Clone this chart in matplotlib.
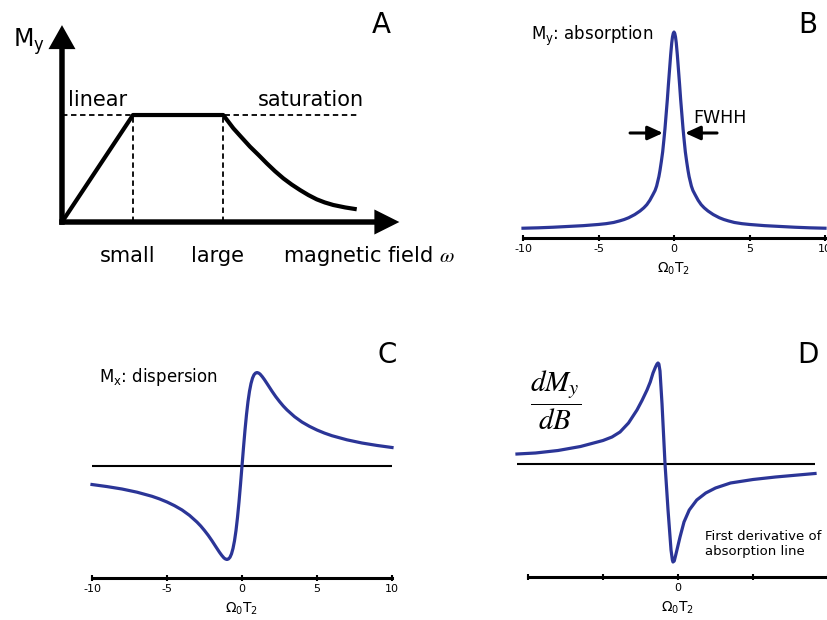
import matplotlib
matplotlib.use('Agg')
import matplotlib.pyplot as plt

plt.rcParams['font.family'] = 'DejaVu Sans'
plt.rcParams['axes.unicode_minus'] = False

# panel A: schematic of M_y vs field (units: small field = 1, saturation = 1)
a_field = [0, 1.0, 2.27, 2.34, 2.413, 2.53, 2.648, 2.77, 2.883, 3.0, 3.117, 3.235, 3.352, 3.47,
           3.587, 3.7, 3.821, 3.99, 4.151]
a_my = [0, 1.0, 1.0, 0.94, 0.876, 0.79, 0.704, 0.625, 0.549, 0.475, 0.408, 0.35, 0.299, 0.252,
        0.212, 0.183, 0.159, 0.136, 0.119]
a_marks = [1.0, 2.27]
a_mark_labels = ['small', 'large']
a_sat = 1.0

# panel B: absorption line
b_x = [-10, -9, -8, -7, -6, -5, -4.5, -4, -3.6, -3.3, -3, -2.6, -2.25, -2.0, -1.8, -1.6, -1.4,
       -1.25, -1.15, -1.0, -0.93, -0.84, -0.75, -0.67, -0.6, -0.52, -0.44, -0.37, -0.3, -0.22,
       -0.15, -0.1, -0.05, 0,
       0.05, 0.1, 0.15, 0.22, 0.3, 0.37, 0.44, 0.52, 0.6, 0.67, 0.75, 0.84, 0.93, 1.0, 1.15,
       1.25, 1.4, 1.6, 1.8, 2.0, 2.25, 2.6, 3, 3.3, 3.6, 4, 4.5, 5, 6, 7, 8, 9, 10]
b_y = [0.009, 0.011, 0.014, 0.018, 0.022, 0.028, 0.032, 0.038, 0.046, 0.053, 0.062, 0.078,
       0.096, 0.112, 0.128, 0.15, 0.178, 0.2, 0.222, 0.27, 0.30, 0.345, 0.395, 0.455, 0.51,
       0.585, 0.66, 0.735, 0.805, 0.885, 0.945, 0.975, 0.993, 1.0,
       0.993, 0.975, 0.945, 0.885, 0.805, 0.735, 0.66, 0.585, 0.51, 0.455, 0.395, 0.345, 0.30,
       0.27, 0.222, 0.2, 0.178, 0.15, 0.128, 0.112, 0.096, 0.078, 0.062, 0.053, 0.046, 0.038,
       0.032, 0.028, 0.022, 0.018, 0.014, 0.011, 0.009]
b_fwhh = 0.73
b_ticks = [-10, -5, 0, 5, 10]
b_ticklabels = ['-10', '-5', '0', '5', '10']

# panel C: dispersion
c_x = [-10, -9, -8, -7, -6, -5.5, -5, -4.5, -4, -3.5, -3, -2.75, -2.5, -2.25, -2, -1.75, -1.5,
       -1.35, -1.2, -1.1, -1, -0.9, -0.8, -0.7, -0.6, -0.5, -0.4, -0.3, -0.2, -0.1, 0,
       0.1, 0.2, 0.3, 0.4, 0.5, 0.6, 0.7, 0.8, 0.9, 1, 1.1, 1.2, 1.35, 1.5, 1.75, 2, 2.25, 2.5,
       2.75, 3, 3.5, 4, 4.5, 5, 5.5, 6, 7, 8, 9, 10]
c_y = [-0.198, -0.220, -0.246, -0.28, -0.324, -0.352, -0.385, -0.424, -0.47, -0.528, -0.60,
       -0.642, -0.69, -0.742, -0.80, -0.862, -0.923, -0.956, -0.984, -0.995, -1.0, -0.994,
       -0.976, -0.94, -0.882, -0.80, -0.69, -0.55, -0.385, -0.198, 0,
       0.198, 0.385, 0.55, 0.69, 0.80, 0.882, 0.94, 0.976, 0.994, 1.0, 0.995, 0.984, 0.956,
       0.923, 0.862, 0.80, 0.742, 0.69, 0.642, 0.60, 0.528, 0.47, 0.424, 0.385, 0.352, 0.324,
       0.28, 0.246, 0.220, 0.198]
c_ticks = [-10, -5, 0, 5, 10]
c_ticklabels = ['-10', '-5', '0', '5', '10']

# panel D: first derivative of the absorption line
d_x = [-2.147, -1.9, -1.6, -1.3, -1.0, -0.88, -0.773, -0.66, -0.547, -0.48, -0.413, -0.37,
       -0.333, -0.3, -0.28, -0.267, -0.255, -0.24, -0.213, -0.173, -0.133, -0.093, -0.075,
       -0.067, -0.05, -0.027, 0.027, 0.08, 0.15, 0.25, 0.37, 0.5, 0.7, 1.0, 1.3, 1.6, 1.827]
d_y = [0.10, 0.11, 0.135, 0.175, 0.235, 0.27, 0.32, 0.41, 0.54, 0.635, 0.74, 0.82, 0.91, 0.97,
       1.0, 1.01, 1.0, 0.93, 0.60, 0.0, -0.46, -0.86, -0.96, -0.98, -0.97, -0.90, -0.73, -0.58,
       -0.46, -0.36, -0.29, -0.24, -0.19, -0.155, -0.13, -0.11, -0.095]
d_ticks = [-2, -1, 0, 1, 2]
d_ticklabels = ['', '', '0', '', '']

BLUE = '#2b3597'
W, H = 827, 620
fig = plt.figure(figsize=(W / 100, H / 100), dpi=100)


def box(x0, x1, ytop, ybot):
    # axes placed by pixel edges (from top-left)
    return fig.add_axes([x0 / W, 1 - ybot / H, (x1 - x0) / W, (ybot - ytop) / H])


def label(px, py, s, **kw):
    fig.text(px / W, 1 - py / H, s, **kw)


def bottom_axis(ax, ticks, labels):
    for s in ['left', 'right', 'top']:
        ax.spines[s].set_visible(False)
    ax.spines['bottom'].set_linewidth(2.2)
    ax.patch.set_visible(False)
    ax.set_yticks([])
    ax.set_xticks(ticks)
    ax.set_xticklabels(labels)
    ax.tick_params(axis='x', direction='inout', length=4, width=1.5, labelsize=8, pad=2)
    ax.set_xlabel(r'$\mathregular{\Omega_0T_2}$', fontsize=10, labelpad=5)


# ---- A ----
axA = box(0, 420, 0, 280)
axA.set_xlim(-0.873, 5.042)
axA.set_ylim(-0.542, 2.075)
axA.axis('off')
axA.arrow(0, -0.026, 0, 1.866, width=0.077, head_width=0.38, head_length=0.224,
          length_includes_head=True, color='k', lw=0)
axA.arrow(-0.0385, 0, 4.79, 0, width=0.051, head_width=0.234, head_length=0.352,
          length_includes_head=True, color='k', lw=0)
axA.hlines(a_sat, 0, a_field[-1], colors='k', lw=1.3, linestyles=(0, (3, 2)))
axA.vlines(a_marks, 0, a_sat, colors='k', lw=1.3, linestyles=(0, (3, 2)))
axA.plot(a_field, a_my, color='k', lw=3, solid_capstyle='butt', solid_joinstyle='round')
axA.text(0.085, 1.084, 'linear', fontsize=15, va='baseline')
axA.text(2.76, 1.084, 'saturation', fontsize=15, va='baseline')
for xm, t in zip(a_marks, a_mark_labels):
    axA.text(xm - 0.08, -0.374, t, fontsize=15, ha='center', va='baseline')
axA.text(3.11, -0.374, 'magnetic field ' + r'$\omega$', fontsize=15, va='baseline',
         math_fontfamily='stix')
axA.text(-0.69, 1.636, r'M$_\mathregular{y}$', fontsize=17, va='baseline')
axA.text(4.49, 1.766, 'A', fontsize=20, ha='center', va='baseline')

# ---- B ----
axB = box(523, 825, 15, 238)
axB.set_xlim(-10, 10)
axB.set_ylim(-0.0404, 1.086)
axB.plot(b_x, b_y, color=BLUE, lw=2.3, clip_on=False)
bottom_axis(axB, b_ticks, b_ticklabels)
arrow_kw = dict(arrowstyle='-|>,head_length=0.7,head_width=0.32', color='k', lw=2.2,
                shrinkA=0, shrinkB=0, mutation_scale=13)
axB.annotate('', xy=(-b_fwhh, 0.49), xytext=(-2.91, 0.49), arrowprops=arrow_kw)
axB.annotate('', xy=(b_fwhh, 0.49), xytext=(2.85, 0.49), arrowprops=arrow_kw)
label(531, 40, r'M$_\mathregular{y}$: absorption', fontsize=12, va='baseline')
label(693, 123, 'FWHH', fontsize=12.5, va='baseline')
label(808, 33, 'B', fontsize=20, ha='center', va='baseline')

# ---- C ----
axC = box(92, 392, 340, 578)
axC.set_xlim(-10, 10)
axC.set_ylim(-1.198, 1.348)
axC.hlines(0, min(c_x), max(c_x), colors='k', lw=1.5, clip_on=False)
axC.plot(c_x, c_y, color=BLUE, lw=2.3, clip_on=False)
bottom_axis(axC, c_ticks, c_ticklabels)
label(99, 382, r'M$_\mathregular{x}$: dispersion', fontsize=12, va='baseline')
label(387, 363, 'C', fontsize=20, ha='center', va='baseline')

# ---- D ----
axD = box(528, 828, 340, 577)
axD.set_xlim(-2, 2)
axD.set_ylim(-1.13, 1.24)
axD.hlines(0, min(d_x), max(d_x), colors='k', lw=1.5, clip_on=False)
axD.plot(d_x, d_y, color=BLUE, lw=2.3, clip_on=False)
bottom_axis(axD, d_ticks, d_ticklabels)
label(556, 400, r'$\dfrac{dM_y}{dB}$', fontsize=21, ha='center', va='center',
      math_fontfamily='stix')
label(705, 530, 'First derivative of\nabsorption line', fontsize=9.5, va='top')
label(808, 363, 'D', fontsize=20, ha='center', va='baseline')

fig.savefig('out.png', dpi=100)
